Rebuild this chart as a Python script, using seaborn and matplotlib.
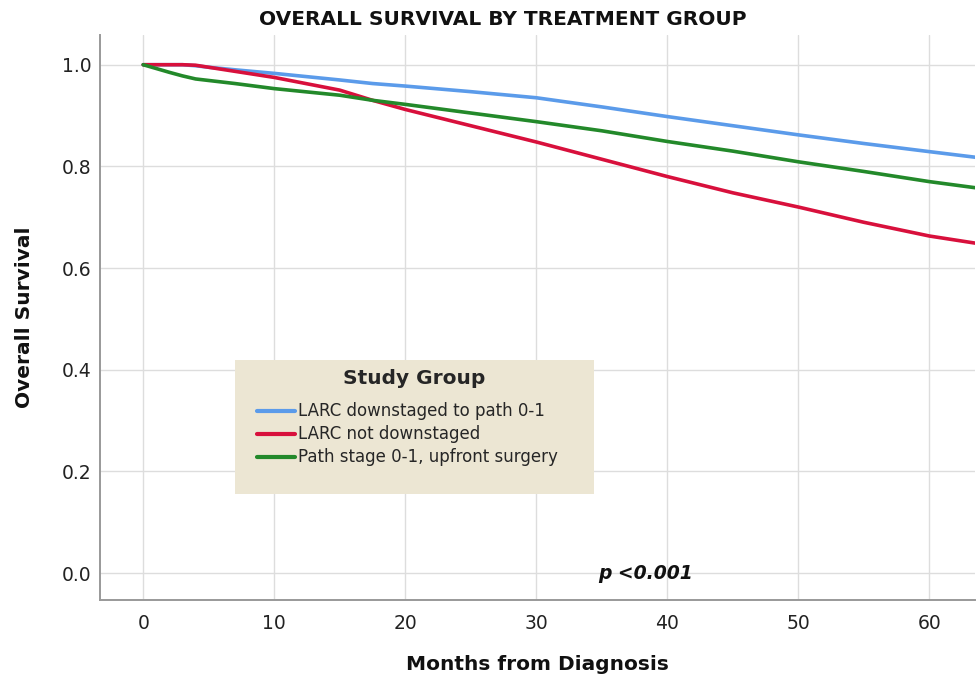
import numpy as np
import pandas as pd
import matplotlib
matplotlib.use("Agg")
import matplotlib.pyplot as plt
from matplotlib.patches import Rectangle
import seaborn as sns

months = [0, 2, 3, 4, 5, 7, 10, 15, 17.5, 20, 25, 30, 35, 40, 45, 50, 55, 60, 63.5]
blue = [1.0, 1.0, 1.0, 0.998, 0.995, 0.99, 0.983, 0.97, 0.963, 0.958, 0.947, 0.935, 0.917, 0.898, 0.88, 0.862, 0.845, 0.829, 0.818]
red = [1.0, 1.0, 1.0, 0.999, 0.995, 0.987, 0.975, 0.95, 0.93, 0.912, 0.88, 0.848, 0.814, 0.78, 0.748, 0.72, 0.69, 0.663, 0.649]
green = [1.0, 0.985, 0.978, 0.972, 0.969, 0.963, 0.953, 0.94, 0.93, 0.922, 0.905, 0.888, 0.87, 0.849, 0.83, 0.809, 0.79, 0.77, 0.758]
groups = ["LARC downstaged to path 0-1", "LARC not downstaged", "Path stage 0-1, upfront surgery"]
colors = ["#5b9bea", "#d8103c", "#23892a"]

df = pd.concat([
    pd.DataFrame({"Months": months, "Survival": vals, "Study Group": g})
    for g, vals in zip(groups, [blue, red, green])
])

sns.set_theme(style="whitegrid")
plt.rcParams['font.family'] = ['DejaVu Sans']

fig = plt.figure(figsize=(9.78, 6.81), dpi=100)
ax = fig.add_axes([0.1022, 0.119, 0.895, 0.83])
sns.lineplot(data=df, x="Months", y="Survival", hue="Study Group",
             palette=colors, linewidth=2.6, ax=ax, legend=True)

ax.set_xlim(-3.3, 63.5)
ax.set_ylim(-0.053, 1.059)
ax.set_xticks([0, 10, 20, 30, 40, 50, 60])
ax.set_yticks([0.0, 0.2, 0.4, 0.6, 0.8, 1.0])
ax.set_yticklabels(["0.0", "0.2", "0.4", "0.6", "0.8", "1.0"])
ax.tick_params(axis='both', labelsize=13.5, colors="#222222", length=0)
ax.tick_params(axis='x', pad=10)
ax.tick_params(axis='y', pad=6)
ax.grid(True, color="#dddddd", linewidth=1)
ax.set_facecolor("white")
for s in ["top", "right"]:
    ax.spines[s].set_visible(False)
for s in ["left", "bottom"]:
    ax.spines[s].set_visible(True)
    ax.spines[s].set_color("#999999")
    ax.spines[s].set_linewidth(1.4)

ax.set_xlabel("Months from Diagnosis", fontsize=14.5, fontweight="bold", color="#111111", va="center")
ax.set_ylabel("Overall Survival", fontsize=14.5, fontweight="bold", color="#111111", va="center")
ax.xaxis.set_label_coords(0.5, -0.115)
ax.yaxis.set_label_coords(-0.086, 0.5)
fig.text(0.514, 0.972, "OVERALL SURVIVAL BY TREATMENT GROUP", ha="center", va="center",
         fontsize=14.5, fontweight="bold", color="#111111")

ax.text(34.7, 0.0, "p <0.001", fontsize=13.5, fontweight="bold", fontstyle="italic",
        ha="left", va="center", color="#111111")

ax.add_patch(Rectangle((0.154, 0.188), 0.41, 0.237, transform=ax.transAxes,
                       facecolor="#ece6d3", edgecolor="none", zorder=4))
leg = ax.legend(title="Study Group", loc="upper left", bbox_to_anchor=(0.169, 0.425, 0.38, 0.0),
                mode="expand", frameon=False, fontsize=12, title_fontsize=14.5,
                handlelength=2.3, handletextpad=0.15, labelspacing=0.3, borderpad=0.55,
                borderaxespad=0)
leg.set_zorder(5)
leg.get_title().set_fontweight("bold")
for line in leg.get_lines():
    line.set_linewidth(3)
leg._legend_box.align = "center"
leg._legend_box.sep = 10.5

fig.savefig("out.png", dpi=100)
